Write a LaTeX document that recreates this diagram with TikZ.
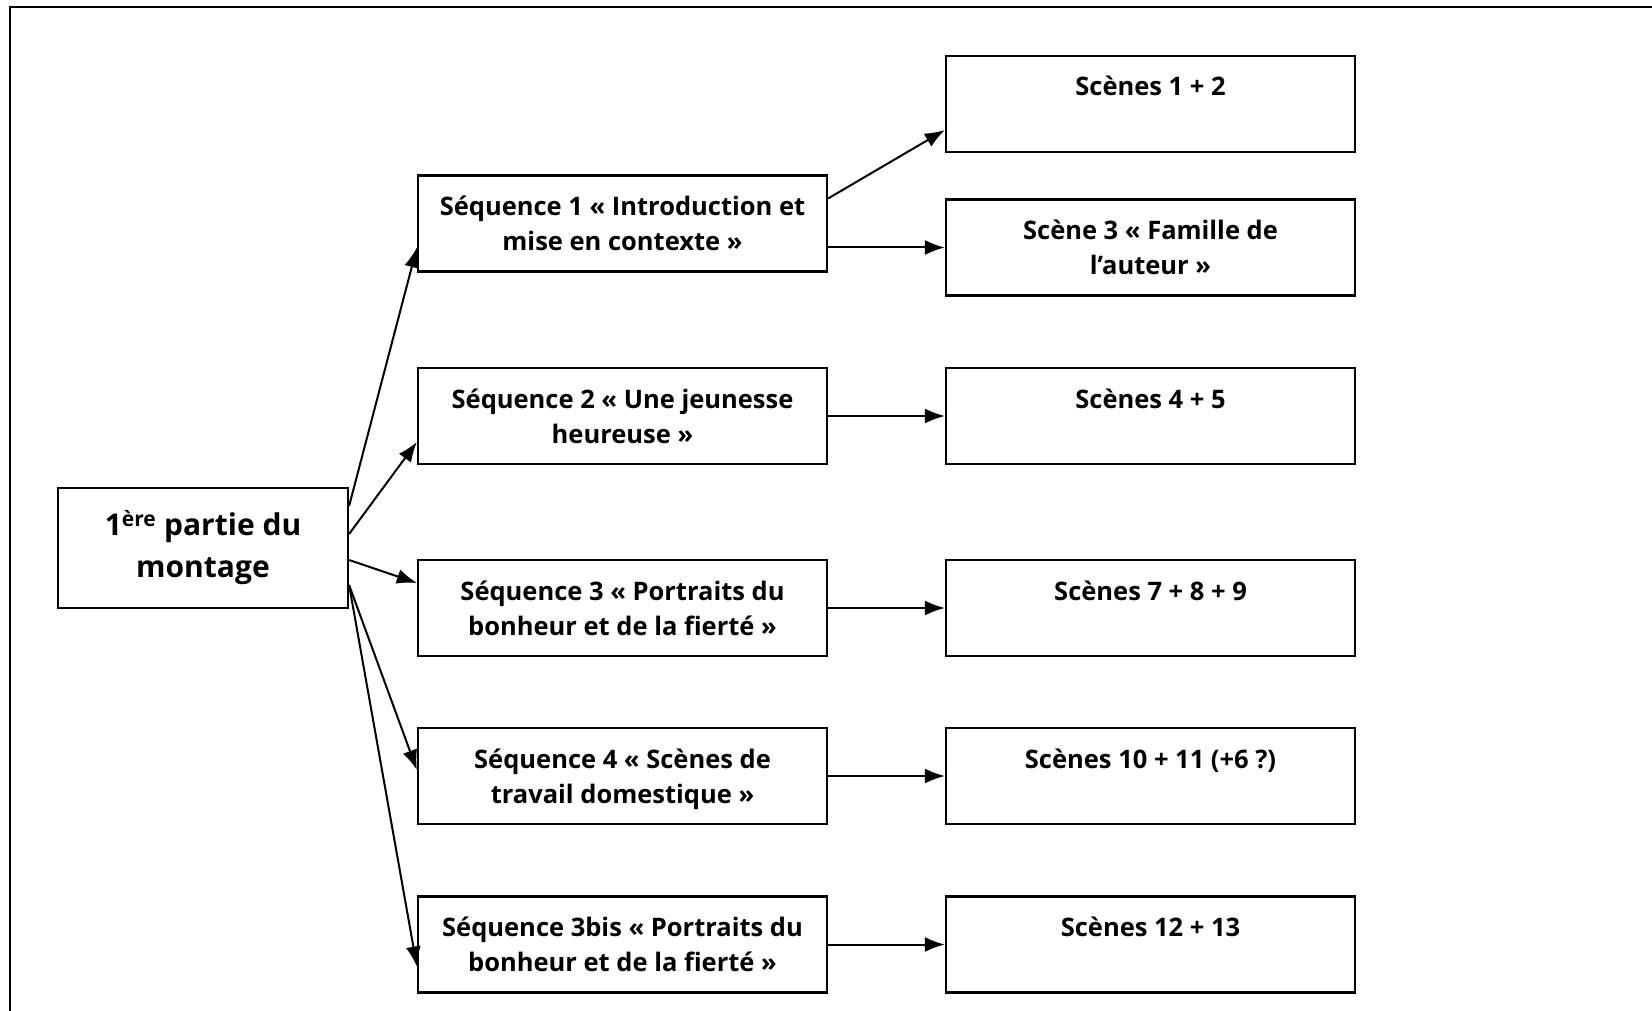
\documentclass[tikz,border=0pt]{standalone}
\usepackage{fontspec}
\setmainfont{Open Sans}
\usetikzlibrary{arrows.meta,positioning,calc}

\begin{document}
\begin{tikzpicture}[x = 1pt, y = -1pt,
  box/.style = {draw, line width = 2.2pt, minimum width = 409pt, minimum height = 96pt, inner sep = 0pt, align = center, font = \fontsize{25.5}{35}\selectfont\bfseries, text height = 60pt, text depth = 6pt},
  single/.style = {text height = 25pt, text depth = 41pt},
  link/.style = {line width = 2pt, -{Latex[length = 20pt, width = 15pt]}}]
\useasboundingbox (0,0) rectangle (1652,1011);
\draw[line width = 2.2pt] (10,1011) -- (10,7) -- (1652,7);
\node[draw, line width = 2.2pt, minimum width = 290pt, minimum height = 120pt, align = center, font = \fontsize{30}{42}\selectfont\bfseries] (part) at (203,548) {1\textsuperscript{ère} partie du\\montage};
\node[box] (seq1) at (622.5,223.5) {Séquence 1 «~Introduction et\\mise en contexte~»};
\node[box] (seq2) at (622.5,416) {Séquence 2 «~Une jeunesse\\heureuse~»};
\node[box] (seq3) at (622.5,608) {Séquence 3 «~Portraits du\\bonheur et de la fierté~»};
\node[box] (seq4) at (622.5,776) {Séquence 4 «~Scènes de\\travail domestique~»};
\node[box] (seq5) at (622.5,944.5) {Séquence 3bis «~Portraits du\\bonheur et de la fierté~»};
\node[box, single] (sc1) at (1150.5,104) {Scènes 1 + 2};
\node[box] (sc2) at (1150.5,247.5) {Scène 3 «~Famille de\\l’auteur~»};
\node[box, single] (sc3) at (1150.5,416) {Scènes 4 + 5};
\node[box, single] (sc4) at (1150.5,608) {Scènes 7 + 8 + 9};
\node[box, single] (sc5) at (1150.5,776) {Scènes 10 + 11 (+6~?)};
\node[box, single] (sc6) at (1150.5,944.5) {Scènes 12 + 13};
\draw[link] ([yshift = 42pt]part.east) -- ([yshift = -24pt]seq1.west);
\draw[link] ([yshift = 14pt]part.east) -- ([yshift = -26pt]seq2.west);
\draw[link] ([yshift = -12pt]part.east) -- ([yshift = 25pt]seq3.west);
\draw[link] ([yshift = -37pt]part.east) -- ([yshift = 6pt]seq4.west);
\draw[link] ([yshift = -37pt]part.east) -- ([yshift = -22pt]seq5.west);
\draw[link] ([yshift = 25pt]seq1.east) -- ([yshift = -26pt]sc1.west);
\draw[link] ([yshift = -24pt]seq1.east) -- (sc2.west);
\draw[link] (seq2.east) -- (sc3.west);
\draw[link] (seq3.east) -- (sc4.west);
\draw[link] (seq4.east) -- (sc5.west);
\draw[link] (seq5.east) -- (sc6.west);
\end{tikzpicture}
\end{document}
